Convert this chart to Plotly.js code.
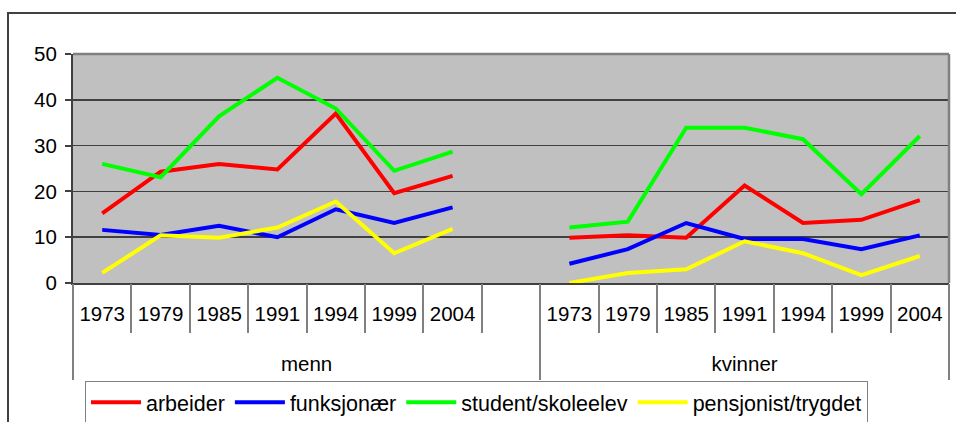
<!DOCTYPE html>
<html>
<head>
<meta charset="utf-8">
<script src="https://cdn.plot.ly/plotly-3.0.1.min.js"></script>
<style>
  html, body { margin:0; padding:0; width:956px; height:422px; overflow:hidden; background:#fff; }
  #frame { position:absolute; left:7px; top:12px; width:1000px; height:500px; border:2px solid #404040; box-sizing:border-box; }
  #chart { position:absolute; left:0; top:0; width:956px; height:422px; }
</style>
</head>
<body>
<div id="frame"></div>
<div id="chart"></div>
<script>
// ---- data ----
const years = ['1973', '1979', '1985', '1991', '1994', '1999', '2004'];
const groups = ['menn', 'kvinner'];
const seriesNames = ['arbeider', 'funksjonær', 'student/skoleelev', 'pensjonist/trygdet'];
const seriesColors = ['#FF0000', '#0000FF', '#00FF00', '#FFFF00'];

const arbeiderMenn      = [15.2, 24.3, 26.0, 24.8, 37.0, 19.6, 23.4];
const arbeiderKvinner   = [9.9, 10.4, 9.9, 21.3, 13.1, 13.8, 18.1];
const funksjonarMenn    = [11.6, 10.5, 12.5, 10.0, 16.1, 13.1, 16.5];
const funksjonarKvinner = [4.2, 7.4, 13.1, 9.6, 9.6, 7.4, 10.4];
const studentMenn       = [26.0, 23.1, 36.4, 44.8, 38.1, 24.5, 28.7];
const studentKvinner    = [12.1, 13.4, 33.9, 33.9, 31.4, 19.4, 32.1];
const pensjonistMenn    = [2.2, 10.4, 9.9, 12.1, 17.8, 6.5, 11.8];
const pensjonistKvinner = [0.0, 2.2, 3.0, 9.1, 6.5, 1.7, 5.9];

const mennSeries = [arbeiderMenn, funksjonarMenn, studentMenn, pensjonistMenn];
const kvinnerSeries = [arbeiderKvinner, funksjonarKvinner, studentKvinner, pensjonistKvinner];

// ---- category positions (menn group has one blank slot at the end) ----
const n = years.length;
const mennPos = years.map((_, i) => i);
const gapPos = n;
const kvinnerPos = years.map((_, i) => i + n + 1);
const allPos = mennPos.concat([gapPos], kvinnerPos);
const lastPos = kvinnerPos[n - 1];
const xRange = [-0.5, lastPos + 0.5];

const yearTickVals = mennPos.concat(kvinnerPos);
const yearTickText = years.concat(years);
const groupBounds = [-0.5, gapPos + 0.5, lastPos + 0.5];
const shortBounds = allPos.map(p => p + 0.5).filter(b => groupBounds.indexOf(b) < 0);
const groupCenters = [(groupBounds[0] + groupBounds[1]) / 2, (groupBounds[1] + groupBounds[2]) / 2];

const FONT = '"Liberation Sans", Arial, sans-serif';

const traces = seriesNames.map((name, k) => ({
  type: 'scatter',
  mode: 'lines',
  name: name,
  x: allPos,
  y: mennSeries[k].concat([null], kvinnerSeries[k]),
  connectgaps: false,
  line: { color: seriesColors[k], width: 4 },
  xaxis: 'x',
  yaxis: 'y'
}));

// empty helper traces so the overlaid category-divider axes get drawn
['x2', 'x3', 'x4'].forEach(ax => traces.push({
  type: 'scatter', mode: 'lines', x: [], y: [], xaxis: ax, yaxis: 'y',
  showlegend: false, hoverinfo: 'skip'
}));

const axBase = { range: xRange, type: 'linear', showgrid: false, zeroline: false, fixedrange: true };

const layout = {
  width: 956,
  height: 422,
  margin: { l: 73, r: 7, t: 54, b: 139, autoexpand: false },
  paper_bgcolor: 'rgba(0,0,0,0)',
  plot_bgcolor: '#C0C0C0',
  font: { family: FONT, size: 20, color: '#000' },
  showlegend: true,
  xaxis: Object.assign({}, axBase, {
    tickmode: 'array', tickvals: yearTickVals, ticktext: yearTickText,
    ticks: 'outside', ticklen: 11, tickcolor: 'rgba(0,0,0,0)',
    showline: true, linecolor: '#404040', linewidth: 2,
    tickfont: { family: FONT, size: 20.5, color: '#000' }
  }),
  xaxis2: Object.assign({}, axBase, {
    overlaying: 'x', anchor: 'y', side: 'bottom',
    tickmode: 'array', tickvals: shortBounds,
    ticks: 'outside', ticklen: 49, tickwidth: 2, tickcolor: '#808080',
    showticklabels: false, showline: false
  }),
  xaxis3: Object.assign({}, axBase, {
    overlaying: 'x', anchor: 'y', side: 'bottom',
    tickmode: 'array', tickvals: groupBounds,
    ticks: 'outside', ticklen: 96, tickwidth: 2, tickcolor: '#808080',
    showticklabels: false, showline: false
  }),
  xaxis4: Object.assign({}, axBase, {
    overlaying: 'x', anchor: 'y', side: 'bottom',
    tickmode: 'array', tickvals: groupCenters, ticktext: groups,
    ticks: 'outside', ticklen: 62, tickcolor: 'rgba(0,0,0,0)',
    showline: false,
    tickfont: { family: FONT, size: 20.5, color: '#000' }
  }),
  yaxis: {
    range: [0, 50], dtick: 10, tick0: 0,
    ticks: 'outside', ticklen: 6, tickwidth: 2, tickcolor: '#404040',
    showline: true, linecolor: '#404040', linewidth: 2,
    showgrid: true, gridcolor: '#404040', gridwidth: 1.5,
    zeroline: false, fixedrange: true,
    ticklabelstandoff: 4,
    tickfont: { family: FONT, size: 20.5, color: '#000' }
  },
  shapes: [
    { type: 'line', xref: 'paper', yref: 'paper', x0: 0, x1: 1, y0: 1, y1: 1, line: { color: '#808080', width: 2.5 }, layer: 'above' },
    { type: 'line', xref: 'paper', yref: 'paper', x0: 1, x1: 1, y0: 0, y1: 1, line: { color: '#808080', width: 2.5 }, layer: 'above' }
  ],
  legend: {
    orientation: 'h',
    x: 0.0137, xanchor: 'left',
    y: -0.427, yanchor: 'top',
    bgcolor: '#FFFFFF',
    bordercolor: '#808080', borderwidth: 1,
    itemwidth: 50,
    font: { family: FONT, size: 21.5, color: '#000' },
    traceorder: 'normal'
  }
};

Plotly.newPlot('chart', traces, layout, { staticPlot: true, displayModeBar: false });
</script>
</body>
</html>
